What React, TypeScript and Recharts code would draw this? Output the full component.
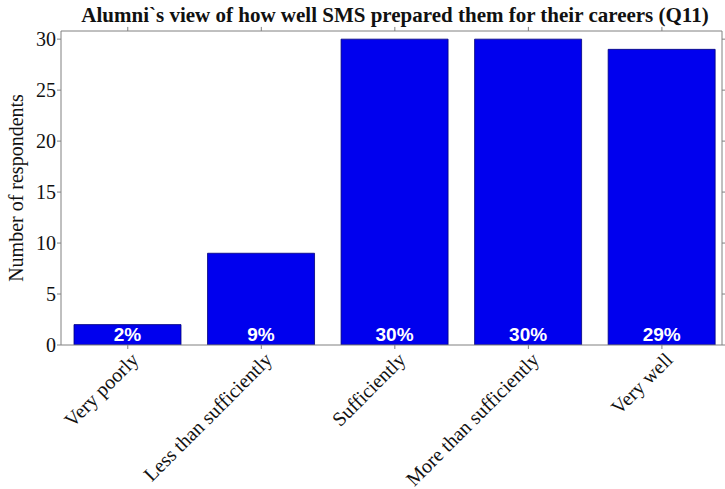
import { BarChart, Bar, XAxis, YAxis, LabelList, ReferenceLine } from "recharts";

const categories = ["Very poorly", "Less than sufficiently", "Sufficiently", "More than sufficiently", "Very well"];
const counts = [2, 9, 30, 30, 29];
const percentLabels = ["2%", "9%", "30%", "30%", "29%"];
const yTicks = [0, 5, 10, 15, 20, 25, 30];
const xTicks = [1, 2, 3, 4, 5];

const data = categories.map((name, i) => ({
  idx: i + 1,
  name,
  count: counts[i],
  pct: percentLabels[i],
}));

const SERIF = "'Liberation Serif', 'Times New Roman', serif";
const AXIS = "#808080";
const X_DOMAIN: [number, number] = [0.5, 5.45];
const Y_DOMAIN: [number, number] = [0, 30.8];
// outward tick length for the top/right frame, in data units (~4px)
const TOP_TICK = 0.4;
const RIGHT_TICK = 0.03;

// eslint-disable-next-line @typescript-eslint/no-explicit-any
function LeftTick(props: any) {
  const { x, y, payload } = props;
  return (
    <g>
      <line x1={x} y1={y} x2={x - 4} y2={y} stroke={AXIS} />
      <text x={x - 5} y={y + 7} textAnchor="end" fontFamily={SERIF} fontSize={20} fill="#111">
        {payload.value}
      </text>
    </g>
  );
}

// eslint-disable-next-line @typescript-eslint/no-explicit-any
function BottomTick(props: any) {
  const { x, y, payload } = props;
  const label = categories[payload.value - 1] ?? "";
  const ax = x + 12;
  const ay = y + 16;
  return (
    <g>
      <line x1={x} y1={y} x2={x} y2={y + 4} stroke={AXIS} />
      <text
        x={ax}
        y={ay}
        textAnchor="end"
        fontFamily={SERIF}
        fontSize={20}
        fill="#111"
        transform={`rotate(-45, ${ax}, ${ay})`}
      >
        {label}
      </text>
    </g>
  );
}

// eslint-disable-next-line @typescript-eslint/no-explicit-any
function PctLabel(props: any) {
  const { x, y, width, height, value } = props;
  return (
    <text
      x={x + width / 2}
      y={y + height - 4}
      textAnchor="middle"
      fontFamily="'Liberation Sans', Arial, sans-serif"
      fontWeight="bold"
      fontSize={19}
      fill="#fff"
    >
      {value}
    </text>
  );
}

export default function App() {
  return (
    <div style={{ position: "fixed", left: 0, top: 0, width: 725, height: 489, background: "#fff" }}>
      <BarChart
        width={725}
        height={489}
        data={data}
        margin={{ top: 31, right: 3, left: 0, bottom: 0 }}
      >
        <XAxis
          dataKey="idx"
          type="number"
          domain={X_DOMAIN}
          ticks={xTicks}
          allowDataOverflow
          height={144}
          stroke={AXIS}
          tickLine={false}
          tickSize={0}
          tickMargin={0}
          tick={<BottomTick />}
          interval={0}
        />
        <YAxis
          type="number"
          domain={Y_DOMAIN}
          ticks={yTicks}
          allowDataOverflow
          width={61}
          stroke={AXIS}
          tickLine={false}
          tickSize={0}
          tickMargin={0}
          tick={<LeftTick />}
          interval={0}
          label={{
            value: "Number of respondents",
            angle: -90,
            position: "insideLeft",
            dx: 11,
            style: { fontFamily: SERIF, fontSize: 20, fill: "#111", textAnchor: "middle" },
          }}
        />
        <Bar
          dataKey="count"
          fill="#0000EE"
          stroke="#00007a"
          strokeWidth={0.8}
          barSize={107}
          isAnimationActive={false}
        >
          <LabelList dataKey="pct" content={<PctLabel />} />
        </Bar>

        {/* box frame: top and right edges with outward ticks */}
        <ReferenceLine y={Y_DOMAIN[1]} stroke={AXIS} />
        <ReferenceLine x={X_DOMAIN[1]} stroke={AXIS} />
        {xTicks.map((t) => (
          <ReferenceLine
            key={`tt${t}`}
            ifOverflow="visible"
            segment={[{ x: t, y: Y_DOMAIN[1] }, { x: t, y: Y_DOMAIN[1] + TOP_TICK }]}
            stroke={AXIS}
          />
        ))}
        {yTicks.map((t) => (
          <ReferenceLine
            key={`rt${t}`}
            ifOverflow="visible"
            segment={[{ x: X_DOMAIN[1], y: t }, { x: X_DOMAIN[1] + RIGHT_TICK, y: t }]}
            stroke={AXIS}
          />
        ))}

        <text x={395} y={22} textAnchor="middle" fontFamily={SERIF} fontWeight="bold" fontSize={21} fill="#111">
          Alumni`s view of how well SMS prepared them for their careers (Q11)
        </text>
      </BarChart>
    </div>
  );
}
